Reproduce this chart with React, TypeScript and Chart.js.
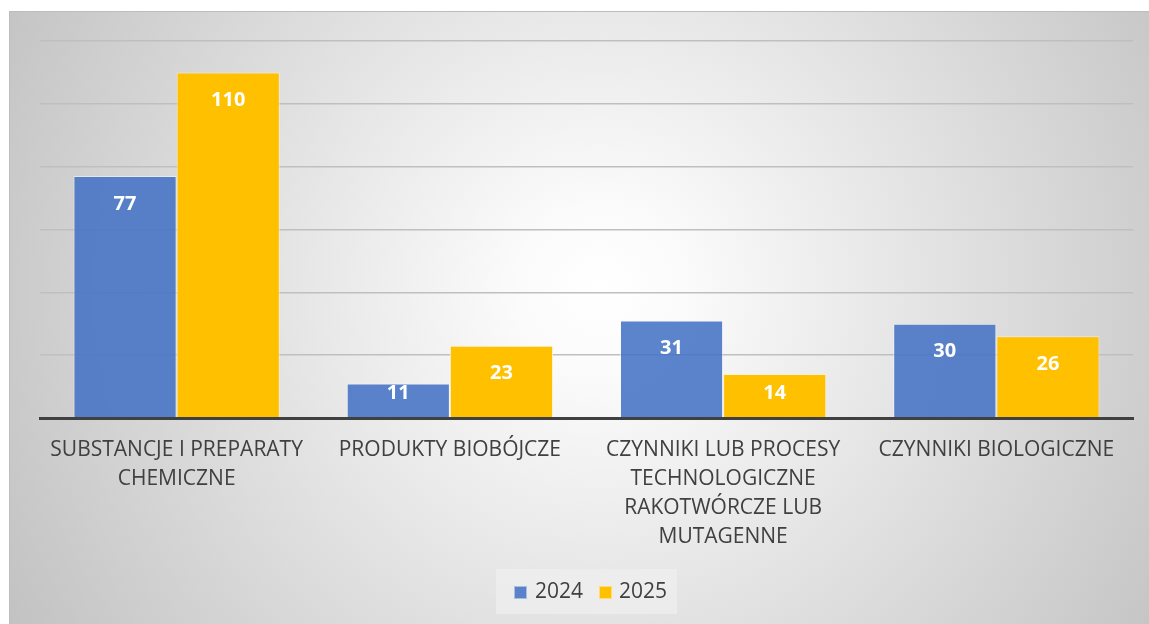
import React, { useEffect, useRef } from "react";
import { Chart, registerables } from "chart.js";

Chart.register(...registerables);

const categories: string[][] = [
  ["SUBSTANCJE I PREPARATY", "CHEMICZNE"],
  ["PRODUKTY BIOBÓJCZE"],
  ["CZYNNIKI LUB PROCESY", "TECHNOLOGICZNE", "RAKOTWÓRCZE LUB", "MUTAGENNE"],
  ["CZYNNIKI BIOLOGICZNE"],
];
const seriesNames = ["2024", "2025"];
const values2024 = [77, 11, 31, 30];
const values2025 = [110, 23, 14, 26];
const yMin = 0;
const yMax = 120;
const yStep = 20;

const BLUE = "rgba(68,114,196,0.87)";
const YELLOW = "#FFC000";
const TEXT = "#404040";
const FONT = "'Open Sans', 'Noto Sans', sans-serif";

const backgroundPlugin = {
  id: "bgFrame",
  beforeDraw(chart: any) {
    const ctx = chart.ctx;
    const W = chart.width;
    const H = chart.height;
    ctx.save();
    ctx.fillStyle = "#ffffff";
    ctx.fillRect(0, 0, W, H);
    const g = ctx.createRadialGradient(600, 290, 0, 600, 290, 680);
    g.addColorStop(0, "#ffffff");
    g.addColorStop(0.12, "#fbfbfb");
    g.addColorStop(1, "#c2c2c2");
    ctx.fillStyle = g;
    ctx.fillRect(9, 11, W - 9, H - 11);
    ctx.strokeStyle = "#bdbdbd";
    ctx.lineWidth = 1;
    ctx.beginPath();
    ctx.moveTo(9.5, H);
    ctx.lineTo(9.5, 11.5);
    ctx.lineTo(W, 11.5);
    ctx.stroke();
    ctx.restore();
  },
};

const labelPlugin = {
  id: "valueLabels",
  afterDatasetsDraw(chart: any) {
    const ctx = chart.ctx;
    ctx.save();
    ctx.font = "bold 20px " + FONT;
    ctx.fillStyle = "#ffffff";
    ctx.textAlign = "center";
    ctx.textBaseline = "middle";
    chart.data.datasets.forEach((ds: any, i: number) => {
      const meta = chart.getDatasetMeta(i);
      meta.data.forEach((el: any, j: number) => {
        const y = Math.min(el.y + 28, el.base - 24);
        ctx.fillText(String(ds.data[j]), el.x, y);
      });
    });
    ctx.restore();
  },
};

const legendPlugin = {
  id: "customLegend",
  afterDraw(chart: any) {
    const ctx = chart.ctx;
    ctx.save();
    ctx.fillStyle = "rgba(240,240,240,0.7)";
    ctx.fillRect(496, 569, 181, 45);
    const items = [
      { name: seriesNames[0], color: BLUE, border: "rgba(170,190,225,1)", bx: 514, tx: 535 },
      { name: seriesNames[1], color: YELLOW, border: "rgba(255,220,120,1)", bx: 599, tx: 619 },
    ];
    ctx.font = "21px " + FONT;
    ctx.textBaseline = "middle";
    ctx.textAlign = "left";
    items.forEach((it) => {
      ctx.fillStyle = it.color;
      ctx.fillRect(it.bx, 586, 13, 13);
      ctx.strokeStyle = it.border;
      ctx.lineWidth = 1;
      ctx.strokeRect(it.bx + 0.5, 586.5, 12, 12);
      ctx.fillStyle = TEXT;
      ctx.fillText(it.name, it.tx, 592);
    });
    ctx.restore();
  },
};

export default function App() {
  const canvasRef = useRef<HTMLCanvasElement | null>(null);

  useEffect(() => {
    if (!canvasRef.current) return;
    const chart = new Chart(canvasRef.current, {
      type: "bar",
      data: {
        labels: categories,
        datasets: [
          {
            label: seriesNames[0],
            data: values2024,
            backgroundColor: BLUE,
            borderColor: "rgba(255,255,255,0.45)",
            borderWidth: 1,
            categoryPercentage: 0.755,
            barPercentage: 1.0,
          },
          {
            label: seriesNames[1],
            data: values2025,
            backgroundColor: YELLOW,
            borderColor: "rgba(255,240,200,0.8)",
            borderWidth: 1,
            categoryPercentage: 0.755,
            barPercentage: 1.0,
          },
        ],
      },
      options: {
        responsive: false,
        animation: false,
        events: [],
        layout: { padding: { left: 40, right: 16, top: 41, bottom: 0 } },
        plugins: {
          legend: { display: false },
          tooltip: { enabled: false },
          title: { display: false },
        },
        scales: {
          x: {
            grid: { display: false, drawTicks: false },
            border: { display: true, color: "#404040", width: 3, z: 1 },
            ticks: {
              color: TEXT,
              font: { family: FONT, size: 21, lineHeight: 1.38 },
              padding: 17.5,
              maxRotation: 0,
              autoSkip: false,
            },
            afterFit: (s: any) => {
              s.height = 206;
            },
          },
          y: {
            min: yMin,
            max: yMax,
            ticks: { display: false, stepSize: yStep },
            grid: { color: "#bfbfbf", lineWidth: 1.5, drawTicks: false },
            border: { display: false },
            afterFit: (s: any) => {
              s.width = 0;
            },
          },
        },
      },
      plugins: [backgroundPlugin, labelPlugin, legendPlugin],
    });
    return () => chart.destroy();
  }, []);

  return (
    <div style={{ position: "fixed", left: 0, top: 0, width: 1149, height: 624 }}>
      <canvas ref={canvasRef} width={1149} height={624} style={{ display: "block" }} />
    </div>
  );
}
